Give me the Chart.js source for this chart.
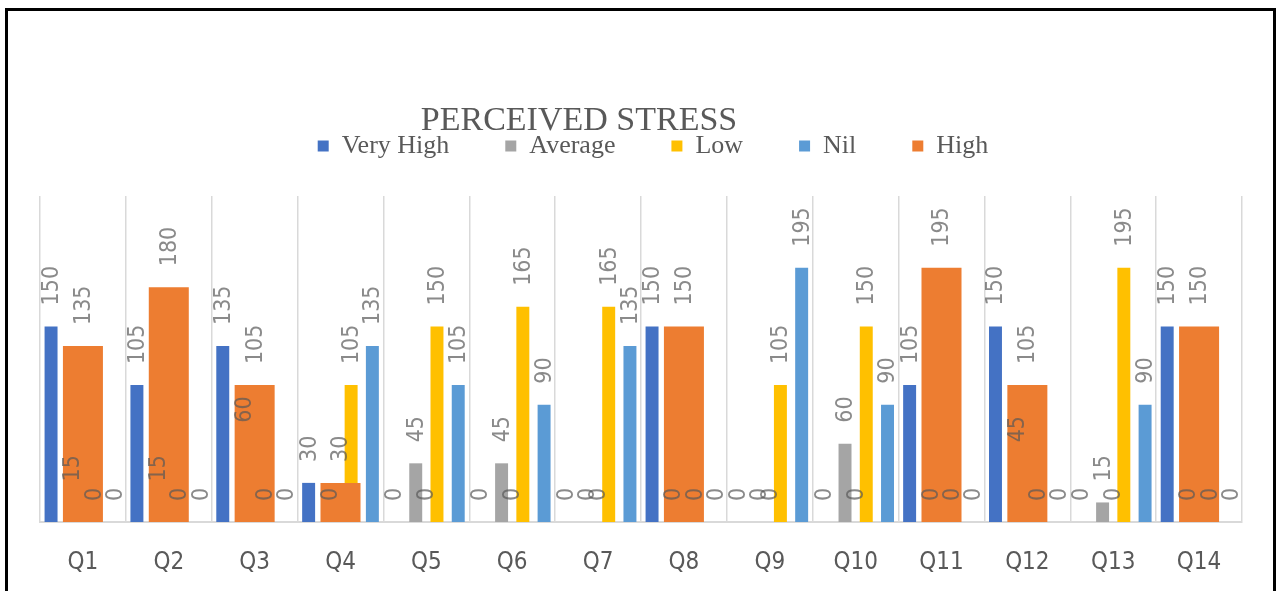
<!doctype html>
<html lang="en">
<head>
  <meta charset="utf-8">
  <title>Perceived Stress</title>
  <script src="https://cdn.jsdelivr.net/npm/chart.js@4.4.1/dist/chart.umd.min.js"></script>
  <style>
    html, body { margin: 0; padding: 0; background: #fff; overflow: hidden; }
    .frame {
      position: absolute; left: 5px; top: 8px; width: 1265px; height: 600px;
      border: 3px solid #000; border-bottom: none;
    }
    #chart { position: absolute; left: 0; top: 0; }
  </style>
</head>
<body>
  <div class="frame"></div>
  <canvas id="chart" width="1277" height="591"></canvas>
  <script>
    // data
    const questions = ['Q1', 'Q2', 'Q3', 'Q4', 'Q5', 'Q6', 'Q7', 'Q8', 'Q9', 'Q10', 'Q11', 'Q12', 'Q13', 'Q14'];
    const veryHigh = [150, 105, 135, 30, 0, 0, 0, 150, 0, 0, 105, 150, 0, 150];
    const average  = [15, 15, 60, 0, 45, 45, 0, 0, 0, 60, 0, 45, 15, 0];
    const low      = [0, 0, 0, 105, 150, 165, 165, 0, 105, 150, 0, 0, 195, 0];
    const nil      = [0, 0, 0, 135, 105, 90, 135, 0, 195, 90, 0, 0, 90, 0];
    const high     = [135, 180, 105, 30, 0, 0, 0, 150, 0, 0, 195, 105, 0, 150];

    const labelFont = "'DejaVu Sans Condensed', 'DejaVu Sans', sans-serif";

    // value labels, rotated, sitting above each bar
    const valueLabels = {
      id: 'valueLabels',
      afterDatasetsDraw(chart) {
        const ctx = chart.ctx;
        ctx.save();
        ctx.font = '23px ' + labelFont;
        ctx.fillStyle = 'rgba(89,89,89,0.7)';
        ctx.textAlign = 'left';
        ctx.textBaseline = 'middle';
        chart.data.datasets.forEach((ds, i) => {
          const meta = chart.getDatasetMeta(i);
          meta.data.forEach((bar, j) => {
            ctx.save();
            ctx.translate(bar.x + 1, bar.y - 21);
            ctx.rotate(-Math.PI / 2);
            ctx.fillText(String(ds.data[j]), 0, 0);
            ctx.restore();
          });
        });
        ctx.restore();
      }
    };

    // room under the legend; title sits left of centre, legend a bit right
    const tweaks = {
      id: 'tweaks',
      beforeInit(chart) {
        const fit = chart.legend.fit;
        chart.legend.fit = function () {
          fit.bind(chart.legend)();
          this.height += 27;
        };
      },
      afterLayout(chart) {
        chart.titleBlock.left -= 62;
        chart.titleBlock.right -= 62;
        chart.legend.left += 12;
        chart.legend.right += 12;
      }
    };

    const ctx = document.getElementById('chart');
    new Chart(ctx, {
      type: 'bar',
      data: {
        labels: questions,
        datasets: [
          { label: 'Very High', data: veryHigh, backgroundColor: '#4472C4' },
          { label: 'Average', data: average, backgroundColor: '#A5A5A5' },
          { label: 'Low', data: low, backgroundColor: '#FFC000' },
          { label: 'Nil', data: nil, backgroundColor: '#5B9BD5' },
          // the High bars are wide, centred on the question and drawn over the others
          { label: 'High', data: high, backgroundColor: '#ED7D31',
            grouped: false, order: -1, barPercentage: 0.466, categoryPercentage: 1 }
        ]
      },
      options: {
        responsive: false,
        animation: false,
        barPercentage: 0.61,
        categoryPercentage: 0.99,
        layout: { padding: { left: 40, right: 35, top: 0, bottom: 17 } },
        plugins: {
          title: {
            display: true,
            text: 'PERCEIVED STRESS',
            color: '#595959',
            font: { family: "'Liberation Serif', serif", size: 34, weight: 'normal', lineHeight: 1 },
            padding: { top: 104, bottom: -61 }
          },
          legend: {
            display: true,
            labels: {
              sort: (a, b) => a.datasetIndex - b.datasetIndex,
              color: '#595959',
              font: { family: "'Liberation Serif', serif", size: 26 },
              boxWidth: 11,
              boxHeight: 11,
              padding: 56
            }
          },
          tooltip: { enabled: false }
        },
        scales: {
          x: {
            grid: { display: true, color: '#d9d9d9', lineWidth: 1.5, drawTicks: false },
            border: { display: true, color: '#d9d9d9', width: 2 },
            ticks: {
              color: '#595959',
              padding: 26,
              font: { family: labelFont, size: 24 }
            },
            afterFit(scale) {
              scale.height = 52;
            }
          },
          y: {
            display: false,
            min: 0,
            max: 250
          }
        }
      },
      plugins: [valueLabels, tweaks]
    });
  </script>
</body>
</html>
